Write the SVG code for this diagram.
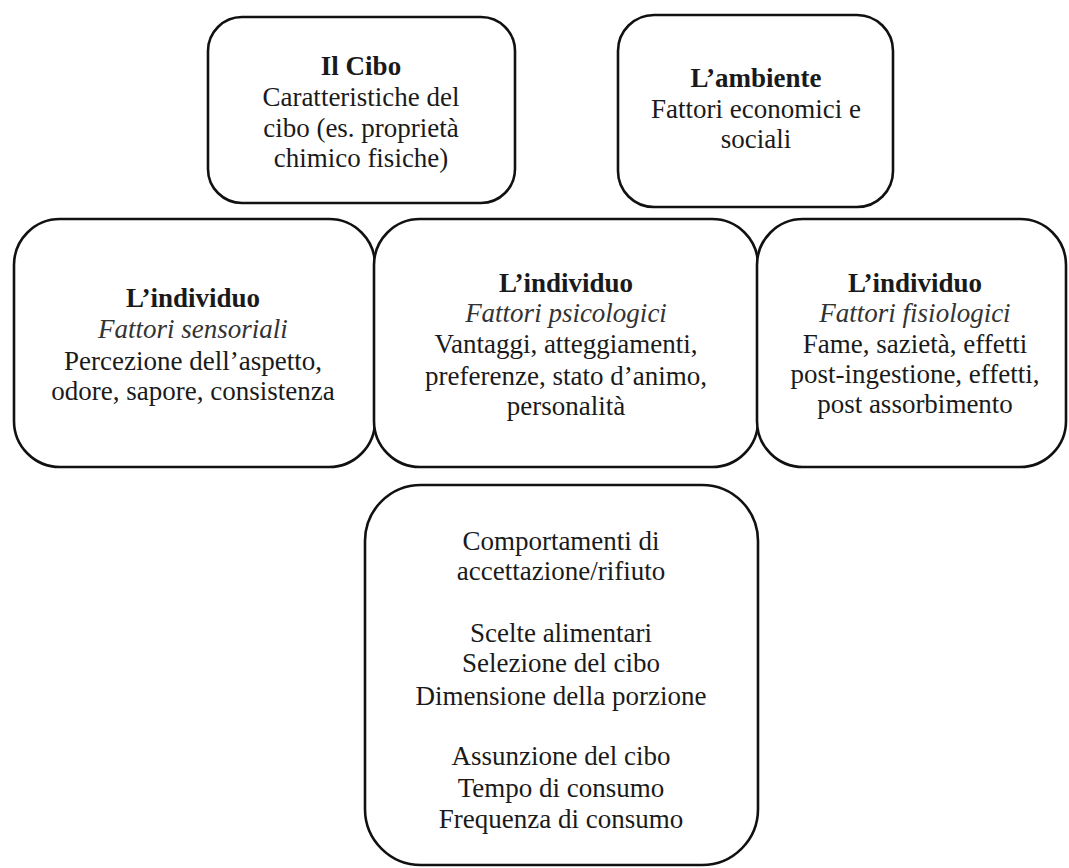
<svg xmlns="http://www.w3.org/2000/svg" width="1069" height="868" viewBox="0 0 1069 868">
<defs>
<style>
.box{fill:#fff;stroke:#111;stroke-width:2.6}
.t{font-size:27px;fill:#1a1a1a;text-anchor:middle}
.b{font-weight:bold}
.i{font-style:italic;fill:#333}
</style>
</defs>
<rect width="1069" height="868" fill="#fff"/>
<g id="connectors"></g>
<g id="cibo">
<rect class="box" x="208" y="17" width="307" height="186" rx="34"/>
<text x="361" y="75" class="t b" style="font-family:'Liberation Serif',serif">Il Cibo</text>
<text x="361" y="106" class="t" style="font-family:'Liberation Serif',serif">Caratteristiche del</text>
<text x="361" y="137" class="t" style="font-family:'Liberation Serif',serif">cibo (es. proprietà</text>
<text x="361" y="167" class="t" style="font-family:'Liberation Serif',serif">chimico fisiche)</text>
</g>
<g id="ambiente">
<rect class="box" x="618" y="15" width="275" height="192" rx="36"/>
<text x="756" y="87" class="t b" style="font-family:'Liberation Serif',serif">L’ambiente</text>
<text x="756" y="118" class="t" style="font-family:'Liberation Serif',serif">Fattori economici e</text>
<text x="756" y="148" class="t" style="font-family:'Liberation Serif',serif">sociali</text>
</g>
<g id="sensoriali">
<rect class="box" x="14" y="219" width="361" height="248" rx="46"/>
<text x="193" y="307" class="t b" style="font-family:'Liberation Serif',serif">L’individuo</text>
<text x="193" y="338" class="t i" style="font-family:'Liberation Serif',serif">Fattori sensoriali</text>
<text x="193" y="370" class="t" style="font-family:'Liberation Serif',serif">Percezione dell’aspetto,</text>
<text x="193" y="400" class="t" style="font-family:'Liberation Serif',serif">odore, sapore, consistenza</text>
</g>
<g id="psicologici">
<rect class="box" x="374" y="219" width="384" height="248" rx="46"/>
<text x="566" y="292" class="t b" style="font-family:'Liberation Serif',serif">L’individuo</text>
<text x="566" y="322" class="t i" style="font-family:'Liberation Serif',serif">Fattori psicologici</text>
<text x="566" y="353" class="t" style="font-family:'Liberation Serif',serif">Vantaggi, atteggiamenti,</text>
<text x="566" y="385" class="t" style="font-family:'Liberation Serif',serif">preferenze, stato d’animo,</text>
<text x="566" y="415" class="t" style="font-family:'Liberation Serif',serif">personalità</text>
</g>
<g id="fisiologici">
<rect class="box" x="757" y="219" width="309" height="248" rx="46"/>
<text x="915" y="292" class="t b" style="font-family:'Liberation Serif',serif">L’individuo</text>
<text x="915" y="322" class="t i" style="font-family:'Liberation Serif',serif">Fattori fisiologici</text>
<text x="915" y="353" class="t" style="font-family:'Liberation Serif',serif">Fame, sazietà, effetti</text>
<text x="915" y="383" class="t" style="font-family:'Liberation Serif',serif">post-ingestione, effetti,</text>
<text x="915" y="413" class="t" style="font-family:'Liberation Serif',serif">post assorbimento</text>
</g>
<g id="comportamenti">
<rect class="box" x="365" y="485" width="393" height="380" rx="56"/>
<text x="561" y="550" class="t" style="font-family:'Liberation Serif',serif">Comportamenti di</text>
<text x="561" y="580" class="t" style="font-family:'Liberation Serif',serif">accettazione/rifiuto</text>
<text x="561" y="642" class="t" style="font-family:'Liberation Serif',serif">Scelte alimentari</text>
<text x="561" y="672" class="t" style="font-family:'Liberation Serif',serif">Selezione del cibo</text>
<text x="561" y="705" class="t" style="font-family:'Liberation Serif',serif">Dimensione della porzione</text>
<text x="561" y="765" class="t" style="font-family:'Liberation Serif',serif">Assunzione del cibo</text>
<text x="561" y="797" class="t" style="font-family:'Liberation Serif',serif">Tempo di consumo</text>
<text x="561" y="828" class="t" style="font-family:'Liberation Serif',serif">Frequenza di consumo</text>
</g>
</svg>
